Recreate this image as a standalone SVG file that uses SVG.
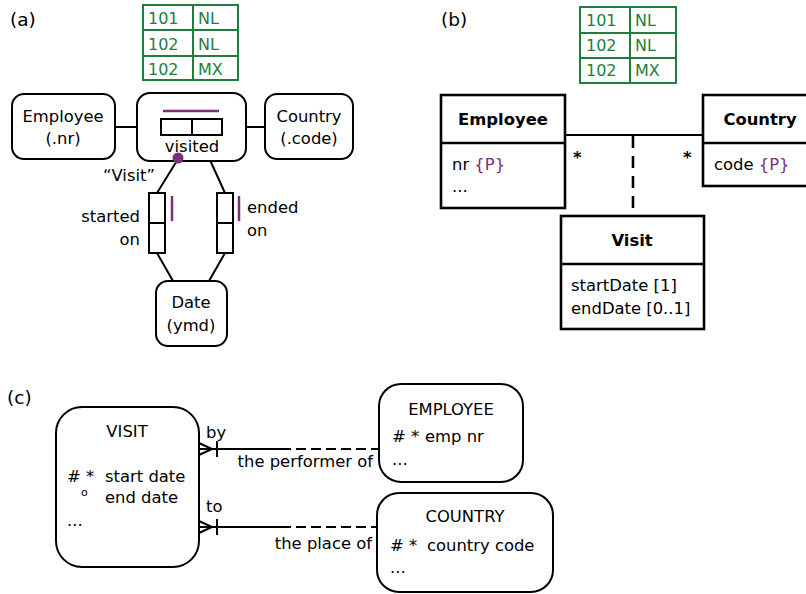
<svg xmlns="http://www.w3.org/2000/svg" width="806" height="594" viewBox="0 0 806 594">
  <style>
    text { font-family: "DejaVu Sans", Verdana, sans-serif; font-size: 16.4px; fill: #000; }
    .mid { text-anchor: middle; }
    .end { text-anchor: end; }
    .b { font-weight: bold; }
    .lbl { font-size: 18.5px; }
    .g { fill: #1e7e3e; font-size: 16px; }
    .p { fill: #7d2c80; }
    .box { fill: #fff; stroke: #000; stroke-width: 2; }
    .uml { fill: #fff; stroke: #000; stroke-width: 2.6; }
    .ln { fill: none; stroke: #000; stroke-width: 2; }
    .dash { fill: none; stroke: #000; stroke-width: 2.2; stroke-dasharray: 10 5; }
    .vdash { fill: none; stroke: #000; stroke-width: 2.6; stroke-dasharray: 12 8; }
    .tbl { fill: #fff; stroke: #1e7e3e; stroke-width: 2; }
    .pl { stroke: #7d2c80; stroke-width: 2.5; fill: none; }
  </style>

  <!-- panel labels -->
  <text class="lbl" x="10" y="26">(a)</text>
  <text class="lbl" x="441" y="26">(b)</text>
  <text class="lbl" x="7" y="404">(c)</text>

  <!-- (a) sample population -->
  <g id="pop-a">
    <rect class="tbl" x="143" y="5" width="95" height="75"/>
    <path class="tbl" d="M143 30H238M143 56H238M193 5V80"/>
    <text class="g" x="148" y="24">101</text><text class="g" x="198" y="24">NL</text>
    <text class="g" x="148" y="50">102</text><text class="g" x="198" y="50">NL</text>
    <text class="g" x="148" y="75">102</text><text class="g" x="198" y="75">MX</text>
  </g>

  <!-- (a) connectors -->
  <g id="connectors-a">
    <path class="ln" d="M115 127H161M222 127H265"/>
    <path class="ln" d="M178 159L157 193M210 160L225 193"/>
    <path class="ln" d="M157 253L173 281M225 253L209 281"/>
  </g>

  <g id="employee-a">
    <rect class="box" x="12" y="94" width="103" height="65" rx="12"/>
    <text class="mid" x="63" y="122">Employee</text>
    <text class="mid" x="63" y="144">(.nr)</text>
  </g>

  <g id="visited-a">
    <rect class="box" x="137" y="93" width="109" height="68" rx="13"/>
    <path class="pl" d="M163 111H219"/>
    <rect class="box" x="161" y="119" width="61" height="16" rx="0"/>
    <path class="ln" d="M192 119V135"/>
    <text class="mid" x="192" y="152">visited</text>
    <circle cx="178" cy="158" r="5.5" fill="#7d2c80"/>
    <text class="mid" x="129" y="181">“Visit”</text>
  </g>

  <g id="country-a">
    <rect class="box" x="265" y="94" width="88" height="65" rx="12"/>
    <text class="mid" x="309" y="122">Country</text>
    <text class="mid" x="309" y="144">(.code)</text>
  </g>

  <g id="started-on">
    <rect class="box" x="149" y="193" width="16" height="60" rx="0"/>
    <path class="ln" d="M149 223H165"/>
    <path class="pl" d="M172 196V221"/>
    <text class="end" x="140" y="222">started</text>
    <text class="end" x="140" y="245">on</text>
  </g>

  <g id="ended-on">
    <rect class="box" x="217" y="193" width="16" height="60" rx="0"/>
    <path class="ln" d="M217 223H233"/>
    <path class="pl" d="M239 196V221"/>
    <text x="247" y="213">ended</text>
    <text x="247" y="236">on</text>
  </g>

  <g id="date-a">
    <rect class="box" x="156" y="281" width="71" height="65" rx="12"/>
    <text class="mid" x="191" y="308">Date</text>
    <text class="mid" x="191" y="331">(ymd)</text>
  </g>

  <!-- (b) sample population -->
  <g id="pop-b">
    <rect class="tbl" x="580" y="7" width="96" height="76"/>
    <path class="tbl" d="M580 33H676M580 58H676M630 7V83"/>
    <text class="g" x="586" y="26">101</text><text class="g" x="635" y="26">NL</text>
    <text class="g" x="586" y="51">102</text><text class="g" x="635" y="51">NL</text>
    <text class="g" x="586" y="76">102</text><text class="g" x="635" y="76">MX</text>
  </g>

  <!-- (b) connectors -->
  <g id="connectors-b">
    <path class="ln" d="M565 135H703"/>
    <path class="vdash" d="M633 136V216"/>
    <text x="573" y="163" class="b">*</text>
    <text x="683" y="163" class="b">*</text>
  </g>

  <g id="employee-b">
    <rect class="uml" x="441" y="95" width="124" height="113"/>
    <path class="uml" d="M441 143H565"/>
    <text class="mid b" x="503" y="125">Employee</text>
    <text x="452" y="170">nr <tspan class="p">{P}</tspan></text>
    <text x="452" y="192">...</text>
  </g>

  <g id="country-b">
    <rect class="uml" x="703" y="95" width="110" height="91"/>
    <path class="uml" d="M703 143H813"/>
    <text class="mid b" x="760" y="125">Country</text>
    <text x="714" y="170">code <tspan class="p">{P}</tspan></text>
  </g>

  <g id="visit-b">
    <rect class="uml" x="561" y="216" width="143" height="113"/>
    <path class="uml" d="M561 264H704"/>
    <text class="mid b" x="632" y="246">Visit</text>
    <text x="571" y="291">startDate [1]</text>
    <text x="571" y="314">endDate [0..1]</text>
  </g>

  <!-- (c) connectors -->
  <g id="connectors-c">
    <path class="ln" d="M199 449H281"/>
    <path class="dash" d="M281 449H379"/>
    <path class="ln" d="M199 443L212 449L199 455M217 441V457"/>
    <text x="206" y="438">by</text>
    <text class="end" x="373" y="467">the performer of</text>

    <path class="ln" d="M199 527H281"/>
    <path class="dash" d="M281 527H378"/>
    <path class="ln" d="M199 521L212 527L199 533M217 519V535"/>
    <text x="206" y="512">to</text>
    <text class="end" x="372" y="549">the place of</text>
  </g>

  <g id="visit-c">
    <rect class="box" x="56" y="407" width="143" height="160" rx="26"/>
    <text class="mid" x="127" y="437">VISIT</text>
    <text x="67" y="482"># *</text>
    <text x="105" y="482">start date</text>
    <text x="81" y="496" style="font-size:11px">o</text>
    <text x="105" y="503">end date</text>
    <text x="67" y="526">...</text>
  </g>

  <g id="employee-c">
    <rect class="box" x="379" y="384" width="144" height="98" rx="22"/>
    <text class="mid" x="451" y="415">EMPLOYEE</text>
    <text x="392" y="442"># *</text>
    <text x="425" y="442">emp nr</text>
    <text x="392" y="465">...</text>
  </g>

  <g id="country-c">
    <rect class="box" x="377" y="493" width="176" height="99" rx="22"/>
    <text class="mid" x="465" y="522">COUNTRY</text>
    <text x="390" y="551"># *</text>
    <text x="427" y="551">country code</text>
    <text x="390" y="573">...</text>
  </g>
</svg>
